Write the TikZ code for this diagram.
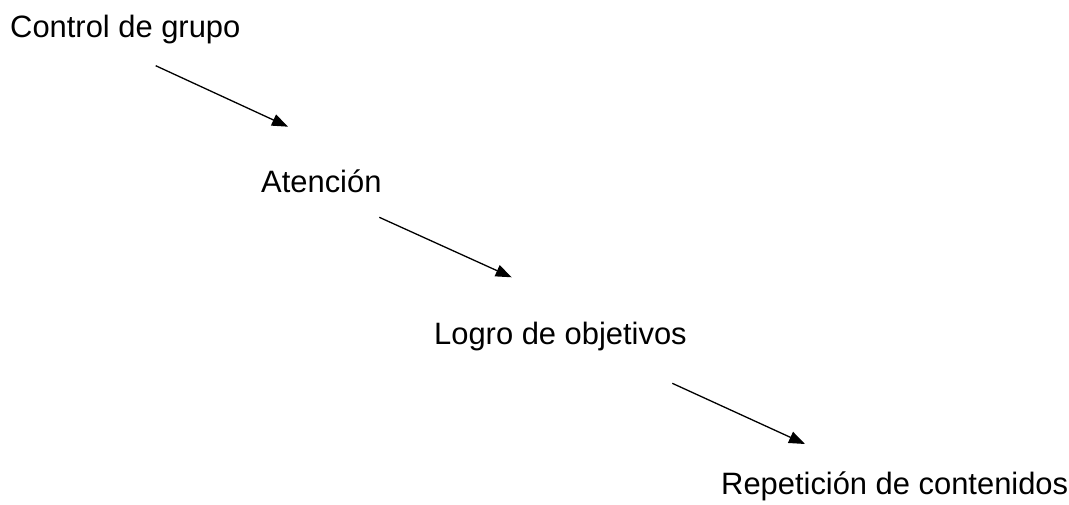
\documentclass[tikz,border=0pt]{standalone}
\usepackage{fontspec}
\setmainfont{Liberation Sans}
\usetikzlibrary{arrows.meta}
\tikzset{
  lbl/.style={anchor=base west, inner sep=0pt, font=\fontsize{30.9}{36}\selectfont},
  conn/.style={line width=1.3pt, -{Triangle[length=16pt,width=12pt]}}
}
\begin{document}
\begin{tikzpicture}[x=1pt,y=-1pt]
\useasboundingbox (0,0) rectangle (1069,504);
\node[lbl] (ctrl) at (10,37.7) {Control de grupo};
\node[lbl] (aten) at (261,192.3) {Atención};
\node[lbl] (logro) at (434,344.3) {Logro de objetivos};
\node[lbl] (rep) at (721,494.3) {Repetición de contenidos};
\coordinate (s1) at (155.7,65.7);
\coordinate (e1) at (288,126.7);
\coordinate (s2) at (379.3,217.3);
\coordinate (e2) at (511.7,277.3);
\coordinate (s3) at (672.3,383.3);
\coordinate (e3) at (805,444);
\draw[conn] (s1) -- (e1);
\draw[conn] (s2) -- (e2);
\draw[conn] (s3) -- (e3);
\end{tikzpicture}
\end{document}
